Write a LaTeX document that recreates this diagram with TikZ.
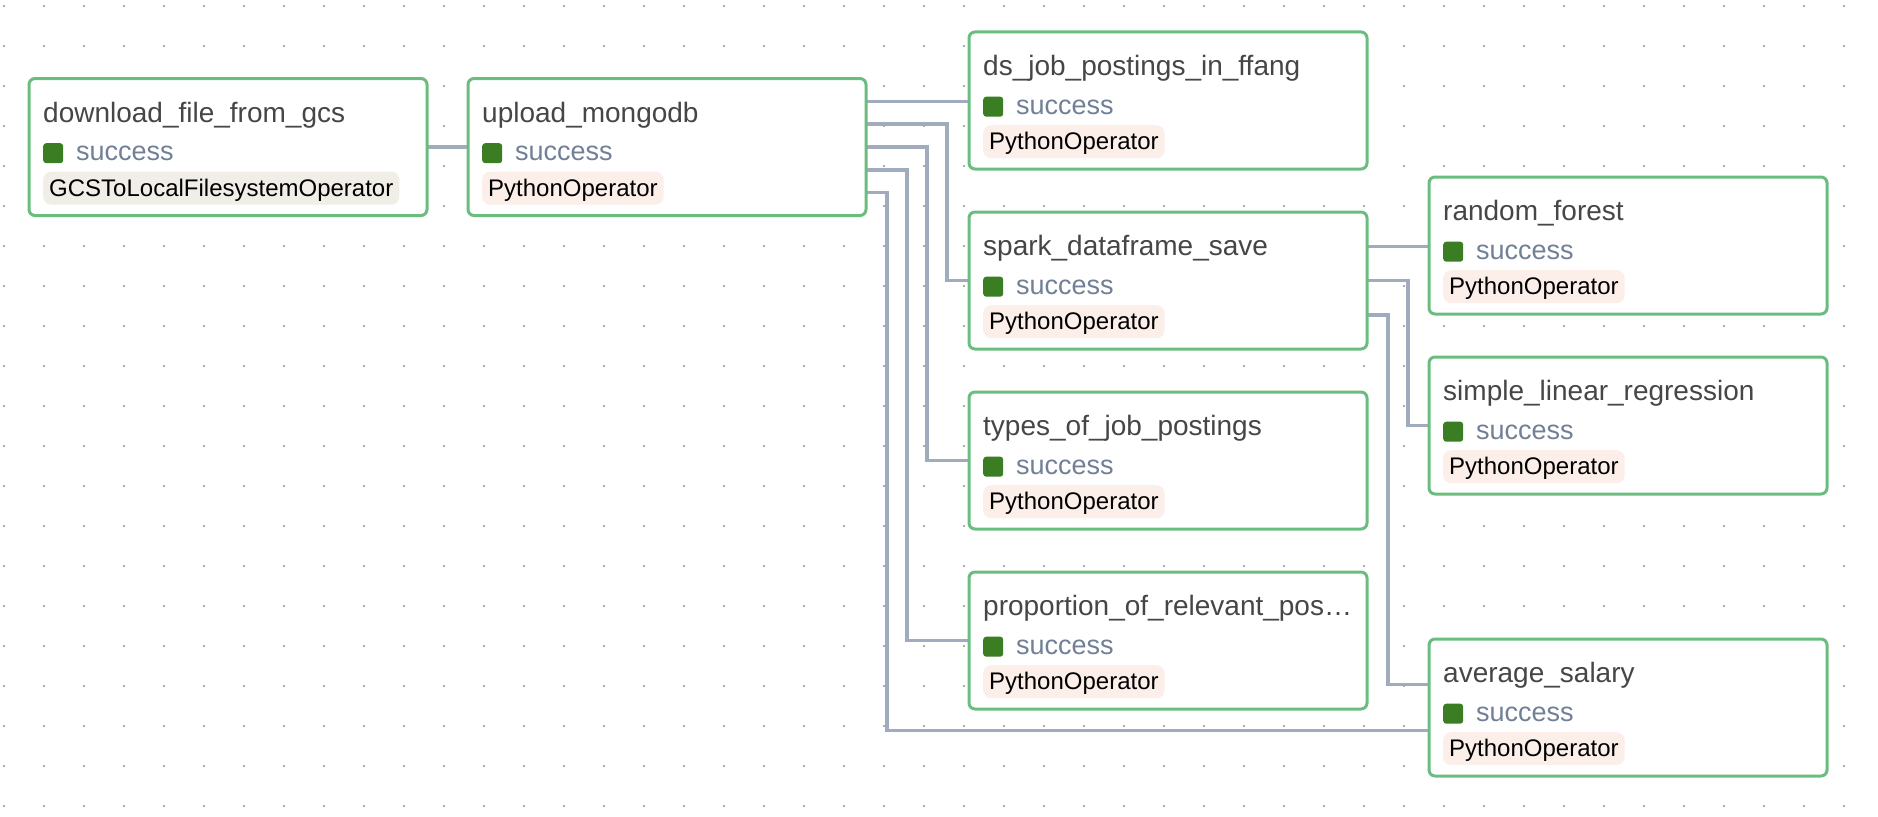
\documentclass[tikz,border=0pt]{standalone}
\usepackage{fontspec}
\setmainfont{Liberation Sans}
\usetikzlibrary{calc}
\pgfdeclarelayer{background}
\pgfsetlayers{background,main}
\definecolor{boxborder}{HTML}{6BBD7F}
\definecolor{edgec}{HTML}{A0ACBE}
\definecolor{statec}{HTML}{3A7D23}
\definecolor{statetxt}{HTML}{718096}
\definecolor{titlec}{HTML}{464646}
\definecolor{pypill}{HTML}{FCEFEA}
\definecolor{gcspill}{HTML}{F0EEE6}
\definecolor{dotc}{HTML}{ABABAB}
\tikzset{
  taskbox/.style={draw=boxborder, line width=3pt, fill=white, rounded corners=6pt,
    minimum width=398pt, minimum height=137pt, anchor=north west, inner sep=0pt, outer sep=0pt},
  tasktitle/.style={anchor=base west, inner sep=0pt, text=titlec, font=\fontsize{28}{34}\selectfont},
  statebox/.style={anchor=north west, fill=statec, rounded corners=3pt, minimum size=20pt, inner sep=0pt},
  statetext/.style={anchor=base west, inner sep=0pt, text=statetxt, font=\fontsize{27}{32}\selectfont},
  oppill/.style={anchor=north west, rounded corners=8pt, inner xsep=6pt, inner ysep=5pt,
    text height=19.5pt, text depth=3.5pt, text=black, font=\fontsize{24}{28}\selectfont},
  depline/.style={draw=edgec, line width=3.5pt},
}
\newcommand\dagtask[6]{%
  \node[taskbox] (#1) at (#2,#3) {};
  \node[tasktitle] (#1-title) at (#2+14,#3+43.5) {#4};
  \node[statebox] (#1-state) at (#2+14,#3+64.5) {};
  \node[statetext] (#1-statetext) at (#2+47,#3+82) {success};
  \node[oppill, fill=#6] (#1-op) at (#2+14,#3+93) {#5};
}
\begin{document}
\begin{tikzpicture}[x=1pt, y=-1pt]
\path[use as bounding box] (0,0) rectangle (1878,816);
\begin{pgfonlayer}{background}
  \fill[white] (0,0) rectangle (1878,816);
  \foreach \i in {0,...,46} {
    \foreach \j in {0,...,20} {
      \fill[dotc] (3+40*\i,5+40*\j) rectangle ++(2,2);
    }
  }
\end{pgfonlayer}

\dagtask{dl}{29}{78.5}{download\_file\_from\_gcs}{GCSToLocalFilesystemOperator}{gcspill}
\dagtask{up}{468}{78.5}{upload\_mongodb}{PythonOperator}{pypill}
\dagtask{ds}{969}{32}{ds\_job\_postings\_in\_ffang}{PythonOperator}{pypill}
\dagtask{sp}{969}{212}{spark\_dataframe\_save}{PythonOperator}{pypill}
\dagtask{ty}{969}{392}{types\_of\_job\_postings}{PythonOperator}{pypill}
\dagtask{pr}{969}{572}{proportion\_of\_relevant\_pos…}{PythonOperator}{pypill}
\dagtask{rf}{1429}{177}{random\_forest}{PythonOperator}{pypill}
\dagtask{sl}{1429}{357}{simple\_linear\_regression}{PythonOperator}{pypill}
\dagtask{av}{1429}{639}{average\_salary}{PythonOperator}{pypill}

\begin{pgfonlayer}{background}
  % download -> upload
  \draw[depline] (dl.east) -- (dl.east -| up.west);
  % upload -> five children
  \coordinate (up1) at ($(up.north east)!1/6!(up.south east)$);
  \coordinate (up2) at ($(up.north east)!2/6!(up.south east)$);
  \coordinate (up3) at ($(up.north east)!3/6!(up.south east)$);
  \coordinate (up4) at ($(up.north east)!4/6!(up.south east)$);
  \coordinate (up5) at ($(up.north east)!5/6!(up.south east)$);
  \coordinate (av1) at ($(av.north west)!1/3!(av.south west)$);
  \coordinate (av2) at ($(av.north west)!2/3!(av.south west)$);
  \draw[depline] (up1) -- (up1 -| ds.west);
  \draw[depline] (up2) -- ++(81,0) |- (sp.west);
  \draw[depline] (up3) -- ++(61,0) |- (ty.west);
  \draw[depline] (up4) -- ++(41,0) |- (pr.west);
  \draw[depline] (up5) -- ++(21,0) |- (av2);
  % spark -> three children
  \coordinate (sp1) at ($(sp.north east)!1/4!(sp.south east)$);
  \coordinate (sp2) at ($(sp.north east)!2/4!(sp.south east)$);
  \coordinate (sp3) at ($(sp.north east)!3/4!(sp.south east)$);
  \draw[depline] (sp1) -- (sp1 -| rf.west);
  \draw[depline] (sp2) -- ++(41,0) |- (sl.west);
  \draw[depline] (sp3) -- ++(21,0) |- (av1);
\end{pgfonlayer}
\end{tikzpicture}
\end{document}
